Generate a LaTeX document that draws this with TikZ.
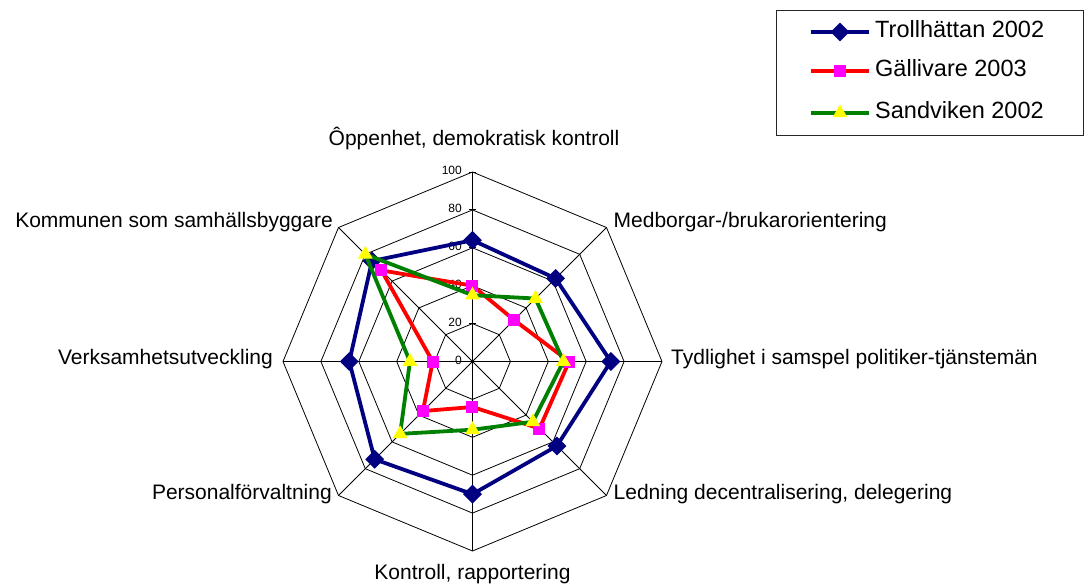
\documentclass[tikz,border=0pt]{standalone}
\usepackage{fontspec}
\setmainfont{Liberation Sans}
\usetikzlibrary{shapes.geometric}

\definecolor{trollblue}{RGB}{0,0,128}
\definecolor{gallred}{RGB}{255,0,0}
\definecolor{gallpink}{RGB}{255,0,255}
\definecolor{sandgreen}{RGB}{0,128,0}
\definecolor{sandyellow}{RGB}{255,255,0}

\tikzset{
  gridline/.style={black, line width=0.8pt},
  seriesline/.style={line width=3.8pt, line join=round},
  trollmark/.style={diamond, fill=trollblue, inner sep=0pt, minimum size=19pt},
  gallmark/.style={rectangle, fill=gallpink, inner sep=0pt, minimum size=12pt},
  sandmark/.style={regular polygon, regular polygon sides=3, fill=sandyellow, inner sep=0pt, minimum size=17pt},
  axislabel/.style={inner sep=0pt, font=\fontsize{21}{25}\selectfont},
  ticklabel/.style={inner sep=0pt, anchor=mid east, font=\fontsize{12}{14}\selectfont},
  legendtext/.style={inner sep=0pt, anchor=mid west, font=\fontsize{23.5}{28}\selectfont}
}

\begin{document}
\begin{tikzpicture}[x=1pt,y=1pt]
  \useasboundingbox (-472.5,-225.5) rectangle (615.5,361.5);
  \def\rs{1.895}
  \coordinate (ctr) at (0,0);

  % octagon grid
  \foreach \r in {20,40,60,80,100}
    \draw[gridline] (90:{\r*\rs}) \foreach \a in {45,0,-45,-90,-135,-180,-225}{ -- (\a:{\r*\rs})} -- cycle;
  \foreach \a [count=\k from 0] in {90,45,0,-45,-90,-135,-180,-225}{
    \coordinate (ax\k) at (\a:{100*\rs});
    \draw[gridline] (ctr) -- (ax\k);
  }
  \foreach \v in {0,20,40,60,80,100}{
    \draw[gridline] (-3.5,{\v*\rs}) -- (3.5,{\v*\rs});
    \node[ticklabel] (tick\v) at (-10.5,{\v*\rs}) {\v};
  }

  % axis labels
  \node[axislabel, anchor=mid] (lbltop) at (1.5,218.5) {Ôppenhet, demokratisk kontroll};
  \node[axislabel, anchor=mid west] (lblne) at (141,136.5) {Medborgar-/brukarorientering};
  \node[axislabel, anchor=mid west] (lble) at (198.5,0) {Tydlighet i samspel politiker-tjänstemän};
  \node[axislabel, anchor=mid west] (lblse) at (141,-135.5) {Ledning decentralisering, delegering};
  \node[axislabel, anchor=mid] (lbls) at (0,-215.5) {Kontroll, rapportering};
  \node[axislabel, anchor=mid east] (lblsw) at (-140.5,-135.5) {Personalförvaltning};
  \node[axislabel, anchor=mid east] (lblw) at (-199.5,0) {Verksamhetsutveckling};
  \node[axislabel, anchor=mid east] (lblnw) at (-139.5,136.5) {Kommunen som samhällsbyggare};

  % data
  \foreach \v [count=\k from 0] in {64,62,73,63,70,73,65,75}
    \coordinate (T\k) at ({90-45*\k}:{\v*\rs});
  \foreach \v [count=\k from 0] in {40,31,51,50,24,37,21,68}
    \coordinate (G\k) at ({90-45*\k}:{\v*\rs});
  \foreach \v [count=\k from 0] in {35,47,48,45,36,54,33,80}
    \coordinate (S\k) at ({90-45*\k}:{\v*\rs});

  \draw[seriesline, trollblue] (T0) -- (T1) -- (T2) -- (T3) -- (T4) -- (T5) -- (T6) -- (T7) -- cycle;
  \foreach \k in {0,...,7} \node[trollmark] (tm\k) at (T\k) {};
  \draw[seriesline, gallred] (G0) -- (G1) -- (G2) -- (G3) -- (G4) -- (G5) -- (G6) -- (G7) -- cycle;
  \foreach \k in {0,...,7} \node[gallmark] (gm\k) at (G\k) {};
  \draw[seriesline, sandgreen] (S0) -- (S1) -- (S2) -- (S3) -- (S4) -- (S5) -- (S6) -- (S7) -- cycle;
  \foreach \k in {0,...,7} \node[sandmark] (sm\k) at (S\k) {};

  % legend
  \draw[black!85, line width=0.9pt] (303.5,351.5) rectangle (610.5,226.5);
  \foreach \y/\col/\mk/\txt [count=\n] in {329.5/trollblue/trollmark/Trollhättan 2002,
                                           290.5/gallred/gallmark/Gällivare 2003,
                                           248.5/sandgreen/sandmark/Sandviken 2002}{
    \coordinate (ls\n) at (338.5,\y);
    \coordinate (le\n) at (396.5,\y);
    \draw[seriesline, \col] (ls\n) -- (le\n);
    \node[\mk] (lm\n) at (367.5,\y) {};
    \node[legendtext] (lt\n) at (402.5,\y-2.5) {\txt};
  }
\end{tikzpicture}
\end{document}
